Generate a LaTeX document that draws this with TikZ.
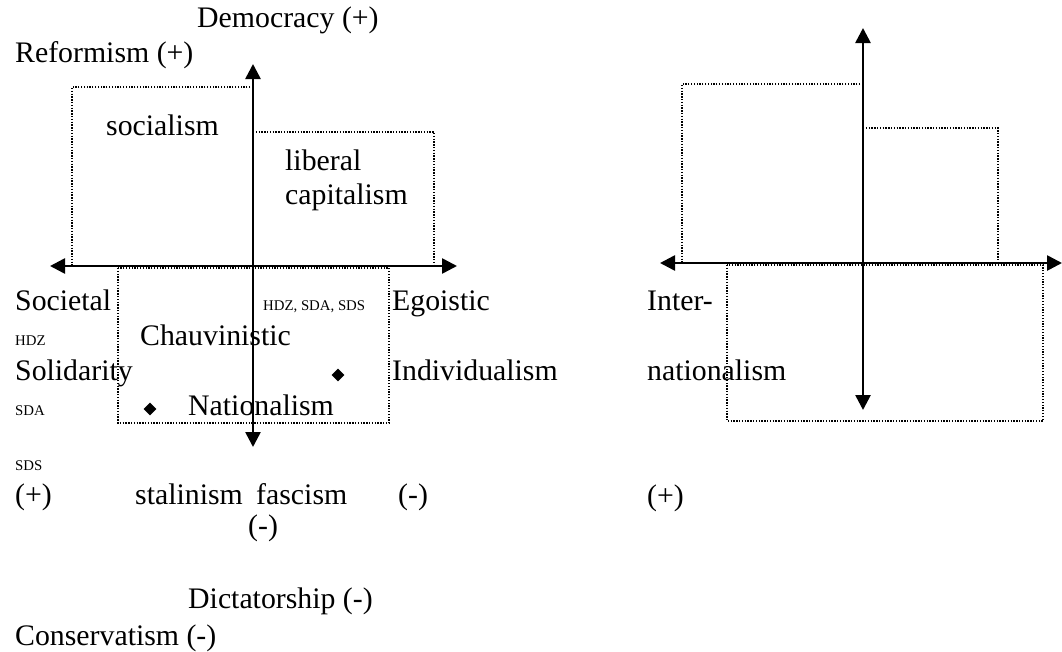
\documentclass[tikz,border=0pt]{standalone}
\usepackage{fontspec}
\setmainfont{Liberation Serif}
\usetikzlibrary{arrows.meta,shapes.geometric,positioning}

\begin{document}
\begin{tikzpicture}[x=1pt, y=-1pt,
    big/.style={inner sep=0pt, anchor=base west, font=\fontsize{29.8}{34}\selectfont},
    small/.style={inner sep=0pt, anchor=base west, font=\fontsize{14.8}{17}\selectfont},
    axis/.style={line width=2.6pt, {Triangle[length=15pt, width=15pt]}-{Triangle[length=15pt, width=15pt]}},
    region/.style={line width=1.4pt, dash pattern=on 1.3pt off 1.5pt},
    party/.style={diamond, fill=black, inner sep=0pt, minimum size=13pt}]
    \useasboundingbox (0,0) rectangle (1062,651);

    % Left diagram: regions
    \draw[region] (253,87) -- (72,87) -- (72,266);
    \draw[region] (253,132) -- (434,132) -- (434,266);
    \draw[region] (118,268) rectangle (389,423);

    % Left diagram: axes
    \coordinate (lwest) at (50,266);
    \coordinate (least) at (457,266);
    \coordinate (lnorth) at (253,64);
    \coordinate (lsouth) at (253,447);
    \draw[axis] (lwest) -- (least);
    \draw[axis] (lsouth) -- (lnorth);

    % Left diagram: labels
    \node[big] (democracy) at (197,27) {Democracy (+)};
    \node[big] (reformism) at (15,62) {Reformism (+)};
    \node[big] (socialism) at (106,135) {socialism};
    \node[big] (liberal) at (285,170) {liberal};
    \node[big] (capitalism) at (285,204) {capitalism};
    \node[big] (societal) at (15,310) {Societal};
    \node[small] (allparties) at (263,310) {HDZ, SDA, SDS};
    \node[big] (egoistic) at (392,310) {Egoistic};
    \node[small] (hdz) at (15,345) {HDZ};
    \node[big] (chauvinistic) at (140,345) {Chauvinistic};
    \node[big] (solidarity) at (15,380) {Solidarity};
    \node[big] (individualism) at (392,380) {Individualism};
    \node[small] (sda) at (15,415) {SDA};
    \node[big] (nationalism) at (188,415) {Nationalism};
    \node[small] (sds) at (15,470) {SDS};
    \node[big] (lplus) at (15,504) {(+)};
    \node[big] (stalinism) at (135,504) {stalinism\hspace{0.45em}fascism};
    \node[big] (lminus) at (398,504) {(-)};
    \node[big] (dminus) at (248,535) {(-)};
    \node[big] (dictatorship) at (188,608) {Dictatorship (-)};
    \node[big] (conservatism) at (15,645) {Conservatism (-)};

    % Party markers
    \node[party] (egoparty) at (338,375) {};
    \node[party] (natparty) at (150,409) {};

    % Right diagram: regions
    \draw[region] (863,84) -- (682,84) -- (682,263);
    \draw[region] (863,128) -- (998,128) -- (998,263);
    \draw[region] (727,265) rectangle (1043,421);

    % Right diagram: axes
    \coordinate (rwest) at (660,263);
    \coordinate (reast) at (1062,263);
    \coordinate (rnorth) at (863,28);
    \coordinate (rsouth) at (863,410);
    \draw[axis] (rwest) -- (reast);
    \draw[axis] (rsouth) -- (rnorth);

    % Right diagram: labels
    \node[big] (inter) at (647,310) {Inter-};
    \node[big] (internat) at (647,380) {nationalism};
    \node[big] (rplus) at (647,505) {(+)};
\end{tikzpicture}
\end{document}
